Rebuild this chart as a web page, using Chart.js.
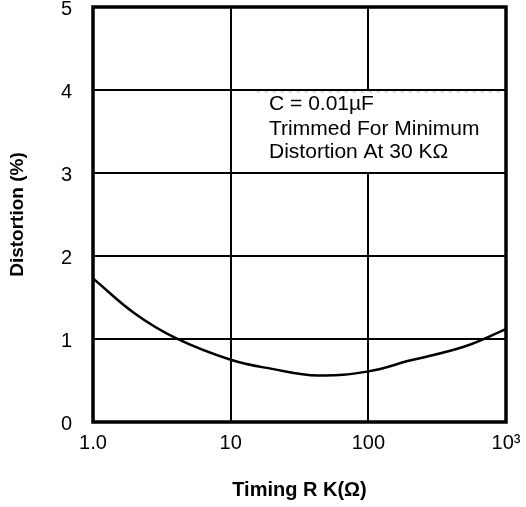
<!DOCTYPE html>
<html>
<head>
<meta charset="utf-8">
<script src="https://cdn.jsdelivr.net/npm/chart.js@4.4.1/dist/chart.umd.min.js"></script>
<style>
  html, body { margin: 0; padding: 0; background: #fff; }
  #wrap { width: 526px; height: 507px; }
</style>
</head>
<body>
<div id="wrap"><canvas id="canvas"></canvas></div>
<script>
// curve: timing R (kOhm) vs distortion (%)
const timingR = [1.0, 2, 4, 10, 20, 43, 100, 200, 500, 1000];
const distortion = [1.73, 1.31, 1.01, 0.75, 0.64, 0.56, 0.61, 0.74, 0.91, 1.12];
const xTicks = [1, 10, 100, 1000];
const xTickLabels = ["1.0", "10", "100", "10³"];
const noteLines = ["C = 0.01\u00b5F", "Trimmed For Minimum", "Distortion At 30 K\u03a9"];

const font = "'Liberation Sans', Arial, sans-serif";

// white box behind the note, and thick frame round the plot
const notePlugin = {
    id: "note",
    beforeDatasetsDraw(chart) {
        const c = chart.ctx;
        const x = chart.scales.x, y = chart.scales.y;
        const left = x.getPixelForValue(14);
        const top = y.getPixelForValue(4) + 1;
        const bottom = y.getPixelForValue(3) - 1;
        c.save();
        c.fillStyle = "#fff";
        c.fillRect(left, top, chart.chartArea.right - left, bottom - top);
        c.strokeStyle = "#bbb";
        c.lineWidth = 1;
        c.setLineDash([3, 5]);
        c.beginPath();
        c.moveTo(left + 6, top + 1);
        c.lineTo(chart.chartArea.right, top + 1);
        c.stroke();
        c.restore();
    },
    afterDatasetsDraw(chart) {
        const c = chart.ctx;
        const x = chart.scales.x, y = chart.scales.y;
        const a = chart.chartArea;
        c.save();
        c.fillStyle = "#000";
        c.font = "21px " + font;
        c.textBaseline = "middle";
        const tx = x.getPixelForValue(19);
        const rows = [3.83, 3.53, 3.25];
        noteLines.forEach((t, i) => c.fillText(t, tx, y.getPixelForValue(rows[i])));
        c.strokeStyle = "#000";
        c.lineWidth = 3.5;
        c.strokeRect(a.left, a.top, a.right - a.left, a.bottom - a.top);
        c.restore();
    }
};

let CanvasEl = document.getElementById("canvas");
var ctx = CanvasEl.getContext("2d");

new Chart(ctx, {
    type: "line",
    data: {
        datasets: [{
            data: timingR.map((r, i) => ({ x: r, y: distortion[i] })),
            borderColor: "#000",
            borderWidth: 2.5,
            pointRadius: 0,
            tension: 0.4,
            fill: false,
        }]
    },
    options: {
        responsive: true,
        maintainAspectRatio: false,
        animation: false,
        layout: { padding: { top: 7, right: 20, left: 0, bottom: 0 } },
        plugins: { legend: { display: false }, tooltip: { enabled: false } },
        scales: {
            x: {
                type: "logarithmic",
                min: 1,
                max: 1000,
                afterBuildTicks: s => { s.ticks = xTicks.map(v => ({ value: v })); },
                afterFit: s => { s.height = 85; s.paddingLeft = 0; s.paddingRight = 0; },
                grid: { color: "#000", lineWidth: 2, drawTicks: false },
                border: { display: false },
                ticks: {
                    color: "#000",
                    padding: 9,
                    font: { family: font, size: 20 },
                    maxRotation: 0,
                    callback: (v, i) => xTickLabels[i],
                },
                title: {
                    display: true,
                    text: "Timing R K(\u03a9)",
                    color: "#000",
                    font: { family: font, size: 20, weight: "bold" },
                    padding: { top: 0, bottom: 5 },
                },
            },
            y: {
                min: 0,
                max: 5,
                afterFit: s => { s.width = 93; s.paddingTop = 0; s.paddingBottom = 0; },
                grid: { color: "#000", lineWidth: 2, drawTicks: false },
                border: { display: false },
                ticks: {
                    stepSize: 1,
                    color: "#000",
                    padding: 21,
                    labelOffset: 2,
                    font: { family: font, size: 20 },
                },
                title: {
                    display: true,
                    text: "Distortion (%)",
                    color: "#000",
                    font: { family: font, size: 19, weight: "bold" },
                    padding: { top: 6, bottom: 0 },
                },
            },
        },
    },
    plugins: [notePlugin],
});
</script>
</body>
</html>
